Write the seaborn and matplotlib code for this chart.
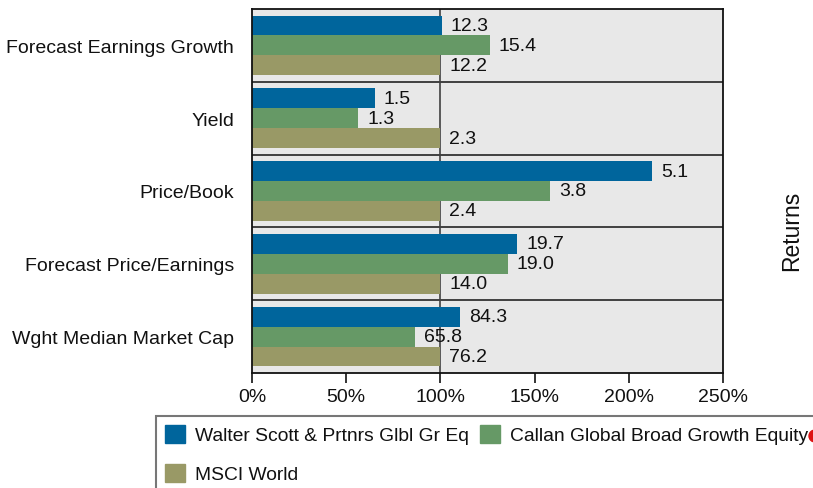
import matplotlib
matplotlib.use("Agg")
import matplotlib.pyplot as plt
import matplotlib.patches as mpatches
import numpy as np
import pandas as pd
import seaborn as sns

# Portfolio characteristics, shown relative to the MSCI World index (=100%)
categories = ["Forecast Earnings Growth", "Yield", "Price/Book",
              "Forecast Price/Earnings", "Wght Median Market Cap"]
series_names = ["Walter Scott & Prtnrs Glbl Gr Eq",
                "Callan Global Broad Growth Equity",
                "MSCI World"]
walter = [12.3, 1.5, 5.1, 19.7, 84.3]
callan = [15.4, 1.3, 3.8, 19.0, 65.8]
msci = [12.2, 2.3, 2.4, 14.0, 76.2]
x_ticks = [0, 50, 100, 150, 200, 250]

colors = ["#00659C", "#669966", "#999966"]

rows = []
for name, vals in zip(series_names, [walter, callan, msci]):
    for cat, v, base in zip(categories, vals, msci):
        rows.append({"category": cat, "series": name, "value": v,
                     "relative": v / base * 100.0})
df = pd.DataFrame(rows)

sns.set_style("white")
plt.rcParams["font.family"] = ["Liberation Sans", "DejaVu Sans"]
plt.rcParams["font.size"] = 14
plt.rcParams["text.color"] = "#111111"
plt.rcParams["xtick.color"] = "#111111"
plt.rcParams["ytick.color"] = "#111111"

W, H = 813, 489
fig = plt.figure(figsize=(W / 100, H / 100), dpi=100)
ax = fig.add_axes([252 / W, 1 - 374 / H, (723 - 252) / W, (374 - 10) / H])
ax.set_facecolor("#E8E8E8")

sns.barplot(data=df, y="category", x="relative", hue="series", orient="h",
            order=categories, hue_order=series_names, palette=colors,
            saturation=1, width=0.82, gap=0, legend=False, ax=ax,
            errorbar=None, linewidth=0, edgecolor="none")

# value labels show the raw characteristic
for cont, vals in zip(ax.containers, [walter, callan, msci]):
    ax.bar_label(cont, labels=[f"{v:.1f}" for v in vals], padding=6.5,
                 fontsize=14, color="#111111")

# group separators and the 100% reference line
for i in range(len(categories) - 1):
    ax.axhline(i + 0.5, color="#404040", lw=1.4, zorder=0.5)
ax.axvline(100, color="#404040", lw=1.2, zorder=0.5)

ax.set_xlim(0, 250)
ax.set_ylim(len(categories) - 0.5, -0.5)
ax.set_xticks(x_ticks)
ax.set_xticklabels([f"{t}%" for t in x_ticks])
ax.set_xlabel("")
ax.set_ylabel("")
ax.tick_params(axis="x", direction="out", length=7, width=1.2, pad=4,
               labelsize=14, bottom=True)
ax.tick_params(axis="y", length=0, pad=13, labelsize=14)
for s in ax.spines.values():
    s.set_color("#111111")
    s.set_linewidth(1.3)

# legend frame (runs off the right edge) and entries, filled row by row
frame = mpatches.Rectangle((156 / W, -0.05), 0.9, (H - 417) / H + 0.05,
                           transform=fig.transFigure, fill=False,
                           edgecolor="#777777", lw=1.5, clip_on=False)
fig.add_artist(frame)
handles = [mpatches.Patch(color=c, label=n) for c, n in zip(colors, series_names)]
handles = [handles[0], handles[2], handles[1]]
fig.legend(handles=handles, loc="upper left",
           bbox_to_anchor=(165 / W, 1 - 426 / H), ncol=2, frameon=False,
           fontsize=13.9, handlelength=1.04, handleheight=1.04,
           handletextpad=0.52, columnspacing=0.57, labelspacing=1.0,
           borderpad=0, borderaxespad=0)

fig.add_artist(mpatches.Ellipse((815 / W, 1 - 437 / H), 12 / W, 12 / H,
                                transform=fig.transFigure, color="#DD1111"))
fig.text(792 / W, 1 - 231 / H, "Returns", rotation=90, ha="center",
         va="center", fontsize=16.5)

fig.savefig("out.png", dpi=100)
